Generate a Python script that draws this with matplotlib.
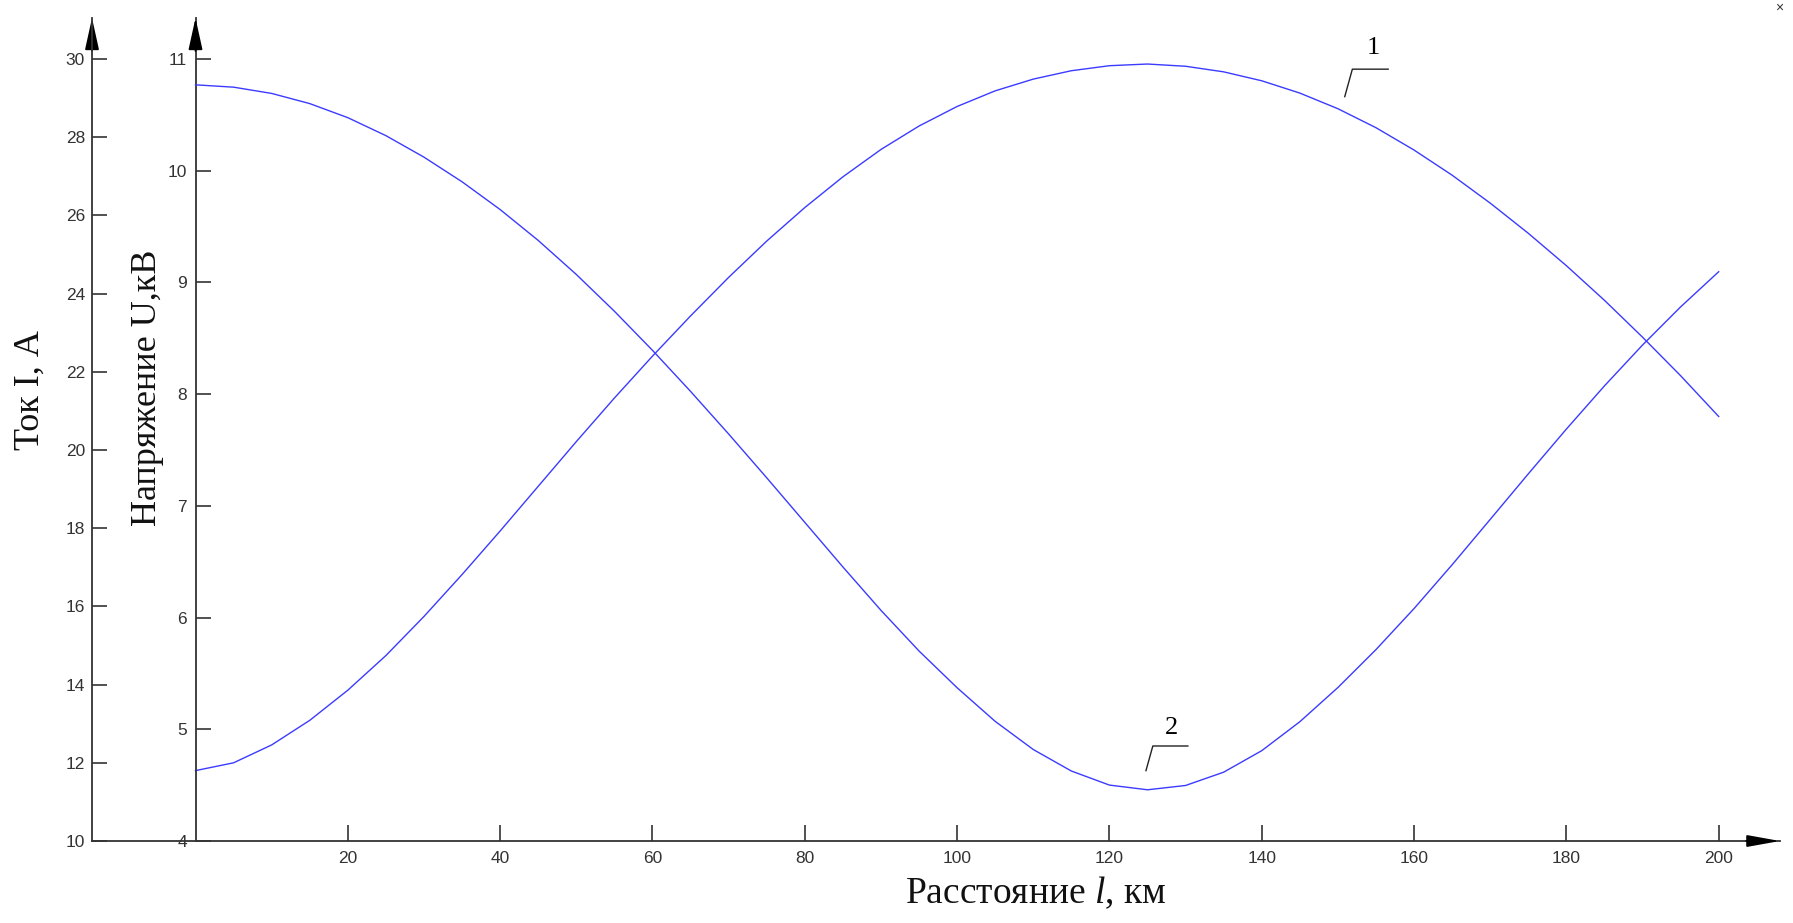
import matplotlib
matplotlib.use("Agg")
import matplotlib.pyplot as plt

# distance along the line, km
dist_km = list(range(0, 205, 5))

# curve 1 - voltage U, kV
voltage_kv = [4.63, 4.70, 4.86, 5.08, 5.35, 5.66, 6.01, 6.385, 6.775, 7.175,
              7.575, 7.965, 8.34, 8.70, 9.045, 9.37, 9.67, 9.945, 10.19, 10.40,
              10.575, 10.715, 10.82, 10.895, 10.94, 10.955, 10.935, 10.885, 10.805, 10.695,
              10.555, 10.385, 10.185, 9.96, 9.71, 9.44, 9.15, 8.84, 8.51, 8.165,
              7.80]

# curve 2 - current I, A
current_a = [29.34, 29.28, 29.12, 28.86, 28.50, 28.04, 27.49, 26.86, 26.15, 25.36,
             24.49, 23.55, 22.55, 21.50, 20.41, 19.29, 18.15, 17.01, 15.90, 14.86,
             13.92, 13.06, 12.34, 11.79, 11.43, 11.31, 11.42, 11.76, 12.31, 13.05,
             13.925, 14.895, 15.945, 17.065, 18.225, 19.39, 20.535, 21.64, 22.685, 23.66,
             24.56]

dist_ticks = [20, 40, 60, 80, 100, 120, 140, 160, 180, 200]
volt_ticks = [4, 5, 6, 7, 8, 9, 10, 11]
curr_ticks = [10, 12, 14, 16, 18, 20, 22, 24, 26, 28, 30]

plt.rcParams["font.family"] = ["Liberation Sans", "DejaVu Sans"]
plt.rcParams["mathtext.fontset"] = "custom"
plt.rcParams["mathtext.rm"] = "Liberation Serif"
plt.rcParams["mathtext.it"] = "Liberation Serif:italic"

SERIF = ["Liberation Serif", "DejaVu Serif"]
AXC = "#333333"
LINE = "#3b3bff"

W, H = 1793, 923
fig = plt.figure(figsize=(W / 100, H / 100), dpi=100)
fig.patch.set_facecolor("white")

# axes box: left edge = current axis, bottom = distance axis
ax = fig.add_axes([92 / W, 1 - 841 / H, (1780 - 92) / W, (841 - 18) / H])
ax2 = ax.twinx()

ax.set_xlim(-13.59, 208.05)
ax.set_ylim(4, 11.367)
ax2.set_ylim(10, 31.049)

for s in ("top", "right"):
    ax.spines[s].set_visible(False)
ax.spines["left"].set_position(("data", 0))
for s in ("top", "right", "bottom"):
    ax2.spines[s].set_visible(False)
ax2.spines["left"].set_visible(True)
ax2.spines["left"].set_position(("axes", 0))
ax2.yaxis.set_ticks_position("left")
ax2.yaxis.set_label_position("left")

for a in (ax, ax2):
    for s in a.spines.values():
        s.set_color(AXC)
        s.set_linewidth(1.3)

ax.set_xticks(dist_ticks)
ax.set_yticks(volt_ticks)
ax2.set_yticks(curr_ticks)

ax.tick_params(axis="x", direction="in", length=11.5, width=1.2, colors=AXC,
               labelsize=12.5, pad=7)
ax.tick_params(axis="y", direction="in", length=11, width=1.2, colors=AXC,
               labelsize=12.5, pad=6)
ax2.tick_params(axis="y", direction="in", length=11, width=1.2, colors=AXC,
                labelsize=12.5, pad=5)

# curves
ax.plot(dist_km, voltage_kv, color=LINE, lw=1.0, solid_joinstyle="round")
ax2.plot(dist_km, current_a, color=LINE, lw=1.0, solid_joinstyle="round")

# curve markers with leaders
ax.plot([150.9, 151.9, 156.6], [10.663, 10.909, 10.909], color="#222222", lw=1.0)
ax.text(154.6, 11.10, "1", ha="center", va="center", fontsize=19, family=SERIF)
ax2.plot([124.8, 125.7, 130.3], [11.80, 12.43, 12.43], color="#222222", lw=1.0)
ax2.text(128.2, 12.88, "2", ha="center", va="center", fontsize=19, family=SERIF)

# arrow heads on the axes
yhead = dict(arrowstyle="-|>,head_length=1.95,head_width=0.43", color="black",
             lw=1.3, shrinkA=0, shrinkB=0, mutation_scale=10)
ax.annotate("", xy=(0, 1), xycoords=("data", "axes fraction"),
            xytext=(0, 0.96), textcoords=("data", "axes fraction"),
            arrowprops=yhead, annotation_clip=False)
ax.annotate("", xy=(0, 1), xycoords="axes fraction",
            xytext=(0, 0.96), textcoords="axes fraction",
            arrowprops=yhead, annotation_clip=False)
xhead = dict(arrowstyle="-|>,head_length=2.0,head_width=0.36", color="black",
             lw=1.3, shrinkA=0, shrinkB=0, mutation_scale=10)
ax.annotate("", xy=(1, 0), xycoords="axes fraction",
            xytext=(0.98, 0), textcoords="axes fraction",
            arrowprops=xhead, annotation_clip=False)

# axis titles
fig.text(30 / W, 1 - 390 / H, "Ток I, А", rotation=90, ha="center", va="center",
         fontsize=26, family=SERIF, color="#111111")
fig.text(147 / W, 1 - 388 / H, "Напряжение U,кВ", rotation=90, ha="center",
         va="center", fontsize=26, family=SERIF, color="#111111")
fig.text(1036 / W, 1 - 893 / H, "Расстояние $l$, км", ha="center", va="center",
         fontsize=27, family=SERIF, color="#111111")

fig.text(1779 / W, 1 - 8 / H, "×", ha="center", va="center", fontsize=10,
         color="#333333")

fig.savefig("out.png", dpi=100, facecolor="white")
